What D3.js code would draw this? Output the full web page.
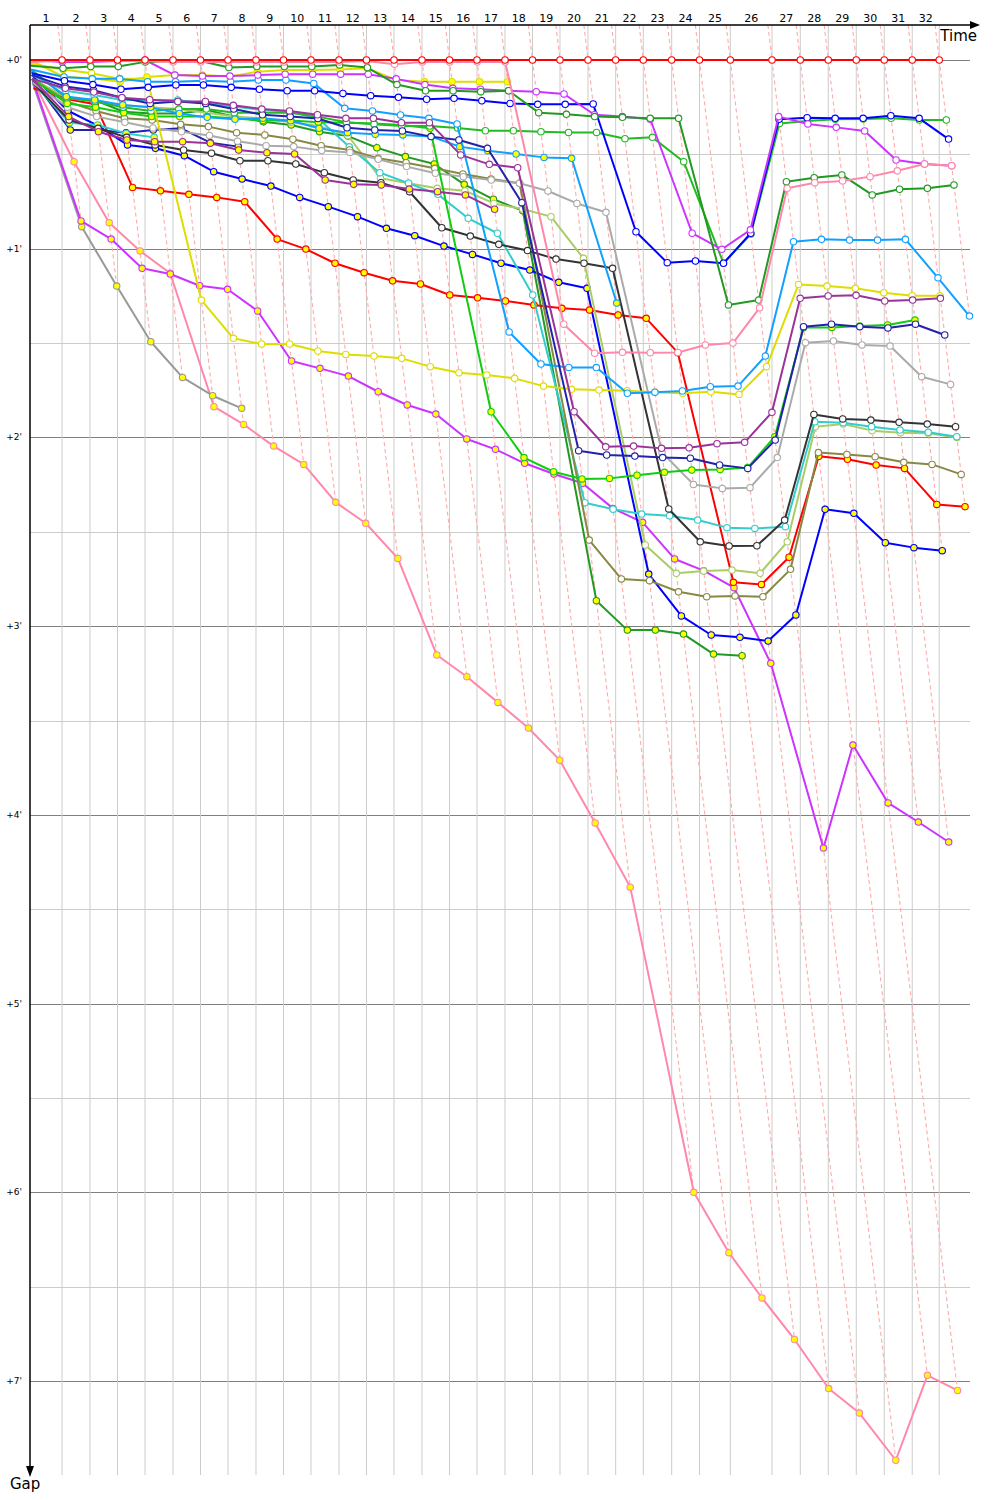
<!DOCTYPE html>
<html><head><meta charset="utf-8">
<script src="https://cdn.jsdelivr.net/npm/d3@7"></script>
<style>body{margin:0;background:#fff} svg{display:block} text{font-family:"DejaVu Sans",Verdana,sans-serif;fill:#000}</style>
</head><body><svg id="c" width="1000" height="1500"></svg>
<script>
// ---------- data ----------
const lapLabels = d3.range(1, 33).map(String);
// leader lap times (seconds)
const lapTimes = [86.1,75.3,74.0,74.0,75.3,74.0,74.0,75.3,74.0,74.0,75.3,74.0,74.0,75.3,74.0,74.0,75.3,74.0,74.0,75.3,74.5,74.3,76.4,74.8,82.9,112.2,76.1,75.3,75.3,75.3,75.3,72.6];
const gapTicks = [0,1,2,3,4,5,6,7];
// gaps to leader in minutes, index = lap (0 = start)
const gapLeader = d3.range(33).map(() => 0);
const gapPink1 = [0.01,0.003,0.003,0.003,0.005,0.01,0.01,0.01,0.01,0.01,0.01,0.01,0.005,0.023,0.01,0.01,0.01,0.01,1.40,1.554,1.549,1.551,1.55,1.51,1.50,1.313,0.68,0.65,0.641,0.618,0.587,0.551,0.56];
const gapDkGreen1 = [0.03,0.044,0.035,0.035,0.01,0.005,0.005,0.04,0.035,0.035,0.035,0.026,0.04,0.13,0.163,0.163,0.168,0.163,0.279,0.288,0.30,0.304,0.309,0.309,1.298,1.272,0.645,0.624,0.609,0.715,0.685,0.68,0.662];
const gapViolet1 = [0.0,0.01,0.01,0.005,0.0,0.08,0.085,0.085,0.08,0.075,0.075,0.075,0.075,0.1,0.13,0.15,0.155,0.163,0.168,0.18,0.29,0.30,0.314,0.918,1.003,0.90,0.30,0.339,0.357,0.376,0.53,0.551,0.56];
const gapPurpleW = [0.1,0.15,0.17,0.2,0.21,0.22,0.22,0.24,0.26,0.27,0.29,0.309,0.309,0.332,0.332,0.503,0.553,0.571,1.864,2.05,2.046,2.058,2.055,2.033,2.026,1.867,1.263,1.25,1.247,1.277,1.272,1.263];
const gapPurpleY = [0.1,0.3,0.38,0.424,0.433,0.433,0.441,0.477,0.491,0.498,0.636,0.659,0.662,0.684,0.698,0.715,0.791];
const gapBlue1 = [0.07,0.11,0.13,0.155,0.145,0.132,0.132,0.145,0.155,0.163,0.163,0.177,0.189,0.198,0.208,0.203,0.216,0.23,0.235,0.235,0.233,0.91,1.074,1.065,1.077,0.918,0.314,0.306,0.309,0.309,0.295,0.309,0.419];
const gapNavyW = [0.08,0.14,0.16,0.2,0.23,0.22,0.23,0.26,0.29,0.3,0.31,0.359,0.371,0.376,0.406,0.424,0.468,0.756,2.07,2.093,2.099,2.107,2.11,2.146,2.164,2.014,1.413,1.40,1.413,1.42,1.40,1.457];
const gapSky1 = [0.05,0.09,0.1,0.1,0.115,0.115,0.11,0.115,0.106,0.106,0.124,0.256,0.27,0.291,0.309,0.339,1.441,1.611,1.629,1.63,1.766,1.76,1.754,1.731,1.728,1.569,0.963,0.95,0.954,0.954,0.95,1.154,1.357];
const gapSky2 = [0.06,0.194,0.212,0.238,0.251,0.283,0.304,0.314,0.309,0.322,0.362,0.385,0.394,0.397,0.406,0.459,0.481,0.498,0.516,0.521,1.288];
const gapYellow1 = [0.0,0.09,0.097,0.115,0.09,0.08,0.08,0.088,0.062,0.053,0.053,0.05,0.044,0.106,0.115,0.115,0.115,0.115];
const gapYellow2 = [0.02,0.05,0.07,0.1,0.1,1.272,1.475,1.505,1.505,1.542,1.56,1.569,1.581,1.625,1.657,1.669,1.687,1.728,1.745,1.749,1.752,1.761,1.766,1.758,1.772,1.625,1.189,1.198,1.21,1.233,1.249,1.249];
const gapGreen1 = [0.05,0.2,0.22,0.25,0.27,0.26,0.26,0.28,0.28,0.28,0.3,0.33,0.34,0.35,0.35,0.36,0.375,0.375,0.38,0.384,0.384,0.417,0.41,0.539,1.077,0.922,0.336,0.323,0.314,0.313,0.309,0.318,0.318];
const gapGreen2 = [0.1,0.23,0.25,0.28,0.3,0.3,0.3,0.31,0.32,0.32,0.33,0.332,0.336,0.344,0.362,1.864,2.107,2.182,2.22,2.217,2.20,2.185,2.173,2.17,2.16,1.996,1.417,1.417,1.41,1.404,1.378];
const gapGray1 = [0.12,0.25,0.3,0.33,0.36,0.38,0.4,0.43,0.454,0.459,0.48,0.49,0.526,0.565,0.6,0.618,0.636,0.653,0.694,0.76,0.807,2.08,2.249,2.27,2.266,2.107,1.498,1.489,1.51,1.516,1.678,1.719];
const gapOlive = [0.1,0.22,0.27,0.309,0.318,0.341,0.353,0.385,0.397,0.42,0.454,0.477,0.521,0.544,0.574,0.604,0.631,0.653,2.544,2.75,2.759,2.818,2.844,2.84,2.844,2.699,2.08,2.09,2.102,2.132,2.143,2.196];
const gapBlack = [0.12,0.318,0.362,0.41,0.45,0.477,0.494,0.534,0.534,0.551,0.597,0.636,0.65,0.698,0.889,0.933,0.977,1.01,1.055,1.077,1.104,2.379,2.553,2.575,2.574,2.438,1.878,1.902,1.908,1.92,1.929,1.943];
const gapCyan1 = [0.08,0.163,0.185,0.212,0.212,0.212,0.23,0.247,0.265,0.274,0.309,0.46,0.597,0.653,0.712,0.839,0.918,1.245,2.346,2.38,2.406,2.415,2.438,2.478,2.482,2.473,1.917,1.922,1.943,1.961,1.973,1.996];
const gapCyan2 = [0.12,0.332,0.344,0.389,0.41];
const gapPaleGreen = [0.1,0.2,0.22,0.24,0.25,0.26,0.28,0.3,0.31,0.33,0.35,0.40,0.627,0.653,0.68,0.693,0.76,0.79,0.83,1.051,2.57,2.72,2.708,2.703,2.72,2.553,1.943,1.929,1.964,1.975,1.978,2.0];
const gapRed2 = [0.15,0.207,0.235,0.675,0.693,0.712,0.728,0.751,0.949,1.002,1.077,1.127,1.17,1.187,1.245,1.26,1.277,1.298,1.316,1.325,1.351,1.369,1.551,2.768,2.779,2.635,2.10,2.116,2.146,2.164,2.355,2.367];
const gapBlue3 = [0.08,0.269,0.348,0.45,0.468,0.507,0.592,0.631,0.668,0.728,0.777,0.83,0.892,0.931,0.986,1.03,1.077,1.113,1.178,1.21,2.724,2.946,3.047,3.059,3.079,2.941,2.381,2.402,2.558,2.584,2.6];
const gapNavyY = [0.1,0.371,0.371,0.385,0.371,0.362,0.438,0.459];
const gapDkGreen2 = [0.1,0.203,0.212,0.274,0.283,0.283,0.265,0.3,0.327,0.344,0.38,0.403,0.465,0.512,0.551,0.659,0.738,0.799,2.865,3.021,3.021,3.042,3.148,3.157];
const gapViolet2 = [0.1,0.853,0.949,1.104,1.134,1.196,1.215,1.33,1.595,1.634,1.675,1.758,1.828,1.876,2.008,2.063,2.137,2.194,2.243,2.376,2.45,2.644,2.706,2.796,3.197,4.176,3.63,3.937,4.038,4.144];
const gapGray2 = [0.12,0.883,1.198,1.493,1.682,1.779,1.846];
const gapPink2 = [0.1,0.539,0.862,1.012,1.13,1.837,1.931,2.046,2.143,2.344,2.455,2.641,3.153,3.268,3.404,3.54,3.71,4.043,4.383,6.0,6.32,6.56,6.78,7.04,7.17,7.42,6.97,7.05];

const seriesGaps = [gapPink2,gapGray2,gapViolet2,gapDkGreen2,gapNavyY,gapBlue3,gapRed2,gapPaleGreen,gapCyan2,gapCyan1,gapBlack,gapOlive,gapGray1,gapGreen2,gapGreen1,gapYellow2,gapYellow1,gapSky2,gapSky1,gapNavyW,gapBlue1,gapPurpleY,gapPurpleW,gapViolet1,gapDkGreen1,gapPink1,gapLeader];
const seriesColors = ["#ff88aa","#999999","#cc33ff","#229922","#2222aa","#0000ff","#ff0000","#aacc66","#33cccc","#33cccc","#333333","#888844","#aaaaaa","#11cc11","#22bb22","#dddd00","#dddd00","#11a0ff","#11a0ff","#2222aa","#0000ff","#993399","#993399","#cc33ff","#229922","#ff88aa","#ff0000"];
const seriesFills = ["y","y","y","y","y","y","y","w","y","w","w","w","w","y","w","w","y","y","w","w","w","y","w","w","w","w","w"];

// ---------- drawing ----------
const svg = d3.select("#c");
const plotL = 30, plotR = 970, plotT = 25, plotB = 1475;
const cum = [0];
lapTimes.forEach((t, i) => cum.push(cum[i] + t));
const x = d3.scaleLinear().domain([0, 2529]).range([plotL, plotR]);
const y = d3.scaleLinear().domain([0, 7]).range([60, 1381]);
const px = (k, g) => x(cum[k] + g * 60);

// horizontal grid
const halfSteps = d3.range(0, 15).map(d => d / 2);
svg.append("g").selectAll("line").data(halfSteps).join("line")
  .attr("x1", plotL).attr("x2", plotR)
  .attr("y1", d => Math.round(y(d)) + 0.5).attr("y2", d => Math.round(y(d)) + 0.5)
  .attr("stroke", d => Number.isInteger(d) ? "#808080" : "#cccccc")
  .attr("stroke-width", 1);
// vertical grid (leader lap crossings)
svg.append("g").selectAll("line").data(d3.range(1, 33)).join("line")
  .attr("x1", k => x(cum[k])).attr("x2", k => x(cum[k]))
  .attr("y1", plotT).attr("y2", plotB)
  .attr("stroke", "#cccccc").attr("stroke-width", 1);

// lap dashed lines
const gTop = y.invert(plotT);
const lapMax = d3.range(1, 33).map(k => d3.max(seriesGaps, s => (s[k] == null ? undefined : s[k])));
svg.append("g").selectAll("line").data(d3.range(1, 33)).join("line")
  .attr("x1", k => px(k, gTop)).attr("y1", plotT)
  .attr("x2", k => px(k, lapMax[k - 1])).attr("y2", k => y(lapMax[k - 1]))
  .attr("stroke", "#ffaaaa").attr("stroke-width", 1.1).attr("stroke-dasharray", "4,3");

// series
const line = d3.line().defined(d => d.g != null).x(d => px(d.k, d.g)).y(d => y(d.g));
seriesGaps.forEach((s, i) => {
  const pts = s.map((g, k) => ({ k, g }));
  const g = svg.append("g");
  g.append("path").datum(pts).attr("d", line).attr("fill", "none")
    .attr("stroke", seriesColors[i]).attr("stroke-width", 2).attr("stroke-linejoin", "round");
  g.selectAll("circle").data(pts.filter(d => d.k > 0 && d.g != null)).join("circle")
    .attr("cx", d => px(d.k, d.g)).attr("cy", d => y(d.g)).attr("r", 3.2)
    .attr("fill", seriesFills[i] === "y" ? "#ffff00" : "#ffffff")
    .attr("stroke", seriesColors[i]).attr("stroke-width", 1.1);
});

// axes
svg.append("line").attr("x1", plotL).attr("x2", 972).attr("y1", plotT).attr("y2", plotT).attr("stroke", "#000").attr("stroke-width", 1.5);
svg.append("path").attr("d", "M970,21 L980,25 L970,29 Z").attr("fill", "#000");
svg.append("line").attr("x1", plotL).attr("x2", plotL).attr("y1", plotT).attr("y2", 1468).attr("stroke", "#000").attr("stroke-width", 1.5);
svg.append("path").attr("d", "M26,1466 L30,1477 L34,1466 Z").attr("fill", "#000");

// lap labels
svg.append("g").selectAll("text").data(lapLabels).join("text")
  .attr("x", (d, i) => (x(cum[i]) + x(cum[i + 1])) / 2).attr("y", 21.5)
  .attr("text-anchor", "middle").attr("font-size", 11).text(d => d);
// gap tick labels
svg.append("g").selectAll("text").data(gapTicks).join("text")
  .attr("x", 22).attr("y", d => y(d) + 3).attr("text-anchor", "end")
  .attr("font-size", 9).text(d => "+" + d + "'");
svg.append("text").attr("x", 977).attr("y", 41).attr("text-anchor", "end").attr("font-size", 15).text("Time");
svg.append("text").attr("x", 10).attr("y", 1489).attr("font-size", 15).text("Gap");
</script></body></html>
